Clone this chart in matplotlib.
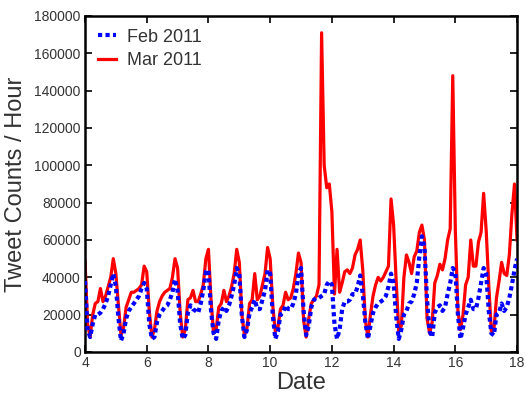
import numpy as np
import matplotlib
matplotlib.use("Agg")
import matplotlib.pyplot as plt

plt.rcParams['font.family'] = ['Liberation Sans', 'DejaVu Sans']

# Hourly tweet counts sampled every 2 hours (12 samples per day), days 4..18
first_day = 4
samples_per_day = 12

feb_counts = [
    38000, 12000, 8000, 15000, 20000, 20000, 21000, 23000, 26000, 30000, 36000, 42000,   # 4
    35000, 18000, 6000, 10000, 18000, 22000, 24000, 26000, 28000, 30000, 34000, 37000,   # 5
    34000, 15000, 7000, 8000, 16000, 20000, 22000, 24000, 25000, 28000, 32000, 39000,    # 6
    33000, 15000, 7000, 9000, 21000, 25000, 23000, 22000, 21000, 26000, 33000, 43000,    # 7
    44000, 22000, 10000, 7000, 17000, 22000, 24000, 22000, 25000, 30000, 36000, 45000,   # 8
    42000, 19000, 8000, 12000, 21000, 24000, 28000, 23000, 23000, 28000, 33000, 44000,   # 9
    42000, 20000, 7000, 11000, 20000, 21000, 25000, 23000, 23000, 26000, 31000, 42000,   # 10
    45000, 22000, 9000, 14000, 24000, 28000, 29000, 29000, 30000, 31000, 36000, 38000,   # 11
    36000, 15000, 7000, 12000, 23000, 27000, 27000, 28000, 31000, 31000, 35000, 41000,   # 12
    31000, 16000, 7000, 14000, 21000, 24000, 26000, 27000, 28000, 30000, 35000, 42000,   # 13
    37000, 19000, 7000, 12000, 20000, 22000, 26000, 27000, 31000, 37000, 51000, 62000,   # 14
    56000, 28000, 11000, 8000, 21000, 24000, 25000, 22000, 24000, 31000, 37000, 45000,   # 15
    43000, 20000, 7000, 13000, 20000, 24000, 28000, 23000, 23000, 29000, 37000, 45000,   # 16
    42000, 22000, 10000, 9000, 20000, 21000, 26000, 22000, 24000, 29000, 36000, 44000,   # 17
    50000,                                                                               # 18
]

mar_counts = [
    49000, 15000, 8000, 20000, 26000, 27000, 34000, 27000, 30000, 35000, 40000, 50000,   # 4
    42000, 25000, 9000, 13000, 24000, 28000, 32000, 32000, 33000, 34000, 36000, 46000,   # 5
    43000, 22000, 8000, 12000, 22000, 27000, 30000, 32000, 33000, 34000, 40000, 50000,   # 6
    45000, 21000, 8000, 12000, 28000, 29000, 33000, 27000, 27000, 31000, 36000, 50000,   # 7
    55000, 28000, 10000, 12000, 24000, 26000, 33000, 27000, 30000, 35000, 42000, 55000,  # 8
    48000, 20000, 9000, 13000, 26000, 28000, 42000, 28000, 30000, 36000, 42000, 56000,   # 9
    50000, 25000, 11000, 13000, 23000, 25000, 32000, 28000, 29000, 34000, 42000, 53000,  # 10
    48000, 17000, 8000, 18000, 26000, 28000, 30000, 36000, 171000, 100000, 88000, 90000, # 11
    75000, 31000, 55000, 32000, 37000, 43000, 44000, 42000, 45000, 52000, 55000, 60000,  # 12
    44000, 17000, 8000, 20000, 30000, 36000, 40000, 38000, 40000, 43000, 46000, 82000,   # 13
    68000, 38000, 11000, 14000, 40000, 52000, 48000, 42000, 51000, 54000, 64000, 68000,  # 14
    60000, 18000, 10000, 16000, 37000, 41000, 47000, 44000, 50000, 60000, 66000, 148000, # 15
    65000, 22000, 12000, 20000, 36000, 40000, 60000, 46000, 46000, 59000, 64000, 85000,  # 16
    65000, 36000, 11000, 12000, 29000, 38000, 48000, 42000, 41000, 52000, 74000, 90000,  # 17
    60000,                                                                               # 18
]

series_labels = ["Feb 2011", "Mar 2011"]
x_ticks = [4, 6, 8, 10, 12, 14, 16, 18]
y_ticks = list(range(0, 180001, 20000))

dates = first_day + np.arange(len(feb_counts)) / samples_per_day

fig = plt.figure(figsize=(5.26, 3.94), dpi=100)
ax = fig.add_axes([0.1616, 0.1066, 0.8214, 0.8528])

text_col = '#333333'
ax.plot(dates, feb_counts, color='#0000ff', lw=3.0, linestyle=(0, (1, 0.8)),
        label=series_labels[0], zorder=3)
ax.plot(dates, mar_counts, color='#ff0000', lw=2.3, label=series_labels[1], zorder=2)

ax.set_xlim(4, 18)
ax.set_ylim(0, 180000)
ax.set_xticks(x_ticks)
ax.set_yticks(y_ticks)
ax.tick_params(direction='in', top=True, right=True, length=5, width=1.2,
               labelsize=10, labelcolor=text_col, pad=3)
for s in ax.spines.values():
    s.set_linewidth(1.8)
    s.set_color('black')

ax.set_xlabel('Date', fontsize=17, color=text_col, labelpad=1)
ax.set_ylabel('Tweet Counts / Hour', fontsize=17, color=text_col, labelpad=5)

leg = ax.legend(loc='upper left', frameon=False, fontsize=13, handlelength=1.0,
                handletextpad=0.65, borderaxespad=0.3, labelspacing=0.35)
for t in leg.get_texts():
    t.set_color(text_col)

fig.savefig('out.png', dpi=100)
